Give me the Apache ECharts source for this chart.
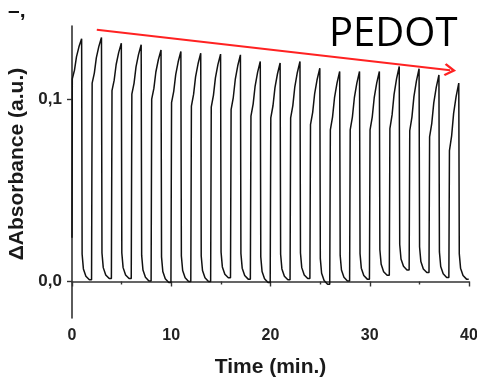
<!DOCTYPE html>
<html>
<head>
<meta charset="utf-8">
<script src="https://cdn.jsdelivr.net/npm/echarts@6/dist/echarts.min.js"></script>
<style>
  html, body { margin: 0; padding: 0; background: #fff; }
  #chart { width: 477px; height: 377px; }
</style>
</head>
<body>
<div id="chart"></div>
<script>
// values
const startValue = 0.024            // first point at t = 0
const cycleStart = [0, 2, 4, 6, 8, 10, 12, 14, 16, 18, 20, 22, 24, 26, 28, 30, 32, 34, 36, 38]
// time (min) after each cycle start where the samples below sit
const phaseOffsets = [0.03, 0.25, 0.45, 0.7, 0.97, 1.02, 1.15, 1.4, 1.75, 1.97]
// absorbance per cycle: rise (knee .. peak), then bleach back to baseline
const absorbanceByCycle = [
    [0.1110, 0.1158, 0.1231, 0.1286, 0.1330, 0.0149, 0.0069, 0.0029, 0.0009, 0.0009],
    [0.1087, 0.1142, 0.1225, 0.1287, 0.1337, 0.0156, 0.0076, 0.0036, 0.0016, 0.0016],
    [0.1046, 0.1103, 0.1189, 0.1254, 0.1306, 0.0156, 0.0076, 0.0036, 0.0016, 0.0016],
    [0.1027, 0.1086, 0.1176, 0.1243, 0.1297, 0.0143, 0.0063, 0.0023, 0.0003, 0.0003],
    [0.0999, 0.1058, 0.1148, 0.1215, 0.1269, 0.0135, 0.0055, 0.0015, -0.0005, -0.0005],
    [0.0980, 0.1042, 0.1134, 0.1204, 0.1260, 0.0140, 0.0060, 0.0020, 0.0000, 0.0000],
    [0.0961, 0.1025, 0.1121, 0.1193, 0.1251, 0.0140, 0.0060, 0.0020, 0.0000, 0.0000],
    [0.0956, 0.1020, 0.1116, 0.1188, 0.1246, 0.0160, 0.0080, 0.0040, 0.0020, 0.0020],
    [0.0942, 0.1008, 0.1107, 0.1182, 0.1242, 0.0153, 0.0073, 0.0033, 0.0013, 0.0013],
    [0.0906, 0.0972, 0.1071, 0.1146, 0.1206, 0.0135, 0.0055, 0.0015, -0.0005, -0.0005],
    [0.0897, 0.0963, 0.1062, 0.1137, 0.1197, 0.0149, 0.0069, 0.0029, 0.0009, 0.0009],
    [0.0896, 0.0964, 0.1067, 0.1144, 0.1206, 0.0156, 0.0076, 0.0036, 0.0016, 0.0016],
    [0.0859, 0.0927, 0.1030, 0.1107, 0.1169, 0.0125, 0.0045, 0.0005, -0.0015, -0.0015],
    [0.0831, 0.0901, 0.1007, 0.1087, 0.1151, 0.0143, 0.0063, 0.0023, 0.0003, 0.0003],
    [0.0831, 0.0901, 0.1007, 0.1087, 0.1151, 0.0153, 0.0073, 0.0033, 0.0013, 0.0013],
    [0.0831, 0.0901, 0.1007, 0.1087, 0.1151, 0.0174, 0.0094, 0.0054, 0.0034, 0.0034],
    [0.0838, 0.0913, 0.1025, 0.1110, 0.1178, 0.0203, 0.0123, 0.0083, 0.0063, 0.0063],
    [0.0826, 0.0901, 0.1013, 0.1098, 0.1166, 0.0189, 0.0109, 0.0069, 0.0049, 0.0049],
    [0.0792, 0.0867, 0.0979, 0.1064, 0.1132, 0.0162, 0.0082, 0.0042, 0.0022, 0.0022],
    [0.0717, 0.0798, 0.0921, 0.1013, 0.1087, 0.0153, 0.0073, 0.0033, 0.0013, 0.0013]
]
// trend arrow (start, end) in data units
const arrowFrom = [2.5, 0.138]
const arrowTo = [38.1, 0.1158]

const xTickLabels = [0, 10, 20, 30, 40]
const yTickValues = [0, 0.1]
const yTickLabels = ['0,0', '0,1']

const points = [[0, startValue]]
cycleStart.forEach((t0, k) => {
    phaseOffsets.forEach((dt, i) => {
        points.push([t0 + dt, absorbanceByCycle[k][i]])
    })
})

const chart = echarts.init(document.getElementById('chart'), null, {renderer: 'canvas'})
const axisFont = 'Liberation Sans'
const chevron = 'path://M5,0 L10,8 L8.6,9.2 L5,3.4 L1.4,9.2 L0,8 Z'

const option = {
    animation: false,
    backgroundColor: '#fff',
    grid: {left: 72, right: 8, top: 26, bottom: 59, containLabel: false, outerBoundsMode: 'none'},
    xAxis: {
        type: 'value',
        min: 0,
        max: 40,
        interval: 10,
        name: 'Time (min.)',
        nameLocation: 'middle',
        nameGap: 39,
        nameTextStyle: {fontFamily: axisFont, fontWeight: 'bold', fontSize: 21, color: '#1a1a1a'},
        axisLine: {show: true, lineStyle: {color: '#333', width: 1.6}},
        axisTick: {show: true, inside: false, length: 5, lineStyle: {color: '#333', width: 1.4}},
        minorTick: {show: true, splitNumber: 2, length: 3, lineStyle: {color: '#333', width: 1.4}},
        axisLabel: {
            customValues: xTickLabels,
            margin: 10,
            fontFamily: axisFont, fontWeight: 'bold', fontSize: 16, color: '#222'
        },
        splitLine: {show: false}
    },
    yAxis: {
        type: 'value',
        min: -0.02,
        max: 0.14,
        name: 'ΔAbsorbance (a.u.)',
        nameLocation: 'middle',
        nameGap: 44,
        nameTextStyle: {
            fontFamily: axisFont, fontWeight: 'bold', fontSize: 21, color: '#1a1a1a',
            padding: [0, 0, 0, 16]
        },
        axisLine: {show: true, lineStyle: {color: '#333', width: 1.6}},
        axisTick: {show: true, inside: false, length: 5, customValues: yTickValues, lineStyle: {color: '#333', width: 1.4}},
        axisLabel: {
            customValues: yTickValues,
            margin: 10,
            formatter: (v) => yTickLabels[yTickValues.indexOf(v)],
            fontFamily: axisFont, fontWeight: 'bold', fontSize: 17, color: '#222'
        },
        splitLine: {show: false}
    },
    series: [{
        type: 'line',
        data: points,
        showSymbol: false,
        symbol: 'none',
        lineStyle: {color: '#111', width: 1.5},
        markLine: {
            silent: true,
            symbol: ['none', chevron],
            symbolSize: [13, 12],
            label: {show: false},
            lineStyle: {color: '#f22', width: 2, type: 'solid'},
            data: [[{coord: arrowFrom}, {coord: arrowTo}]]
        }
    }],
    graphic: [
        {
            type: 'text', left: 329, top: 15,
            style: {text: 'PEDOT', font: '40px "Open Sans"', fill: '#000'}
        },
        {
            type: 'text', left: 8, top: 1,
            style: {text: '–,', font: 'bold 21px "Liberation Sans"', fill: '#111'}
        }
    ]
}

chart.setOption(option)
</script>
</body>
</html>
